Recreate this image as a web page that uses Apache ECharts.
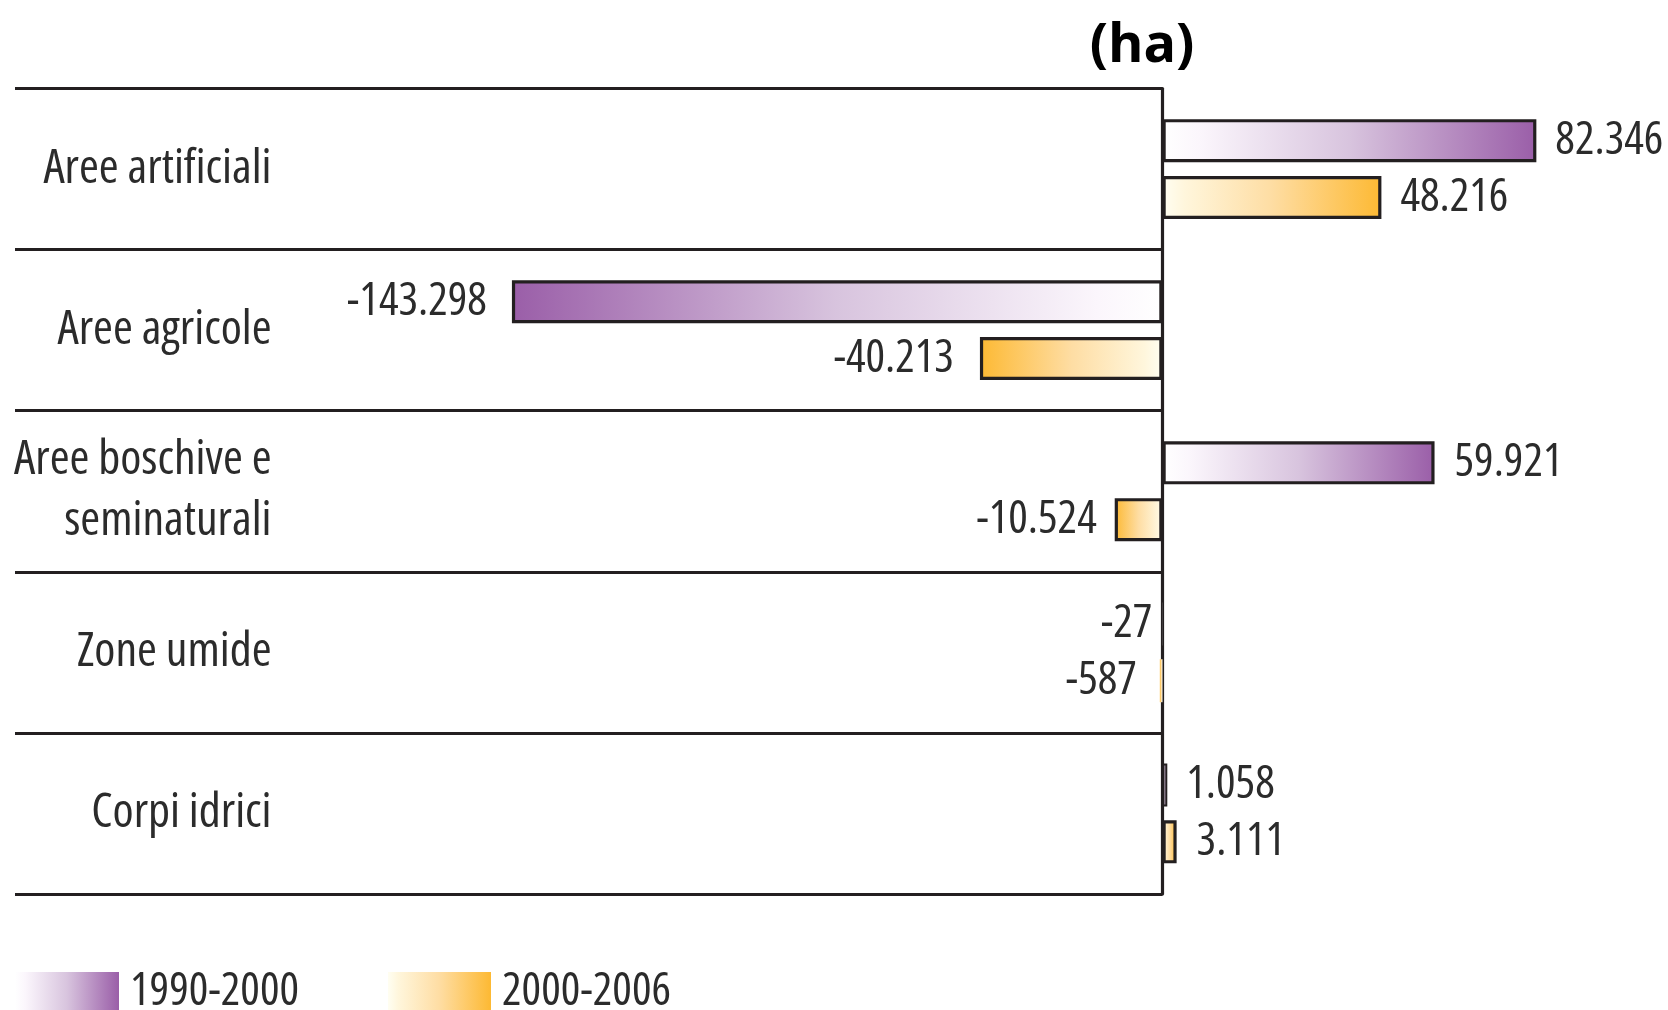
<!DOCTYPE html>
<html>
<head>
<meta charset="utf-8">
<script src="https://cdn.jsdelivr.net/npm/echarts@6/dist/echarts.min.js"></script>
<style>
html,body{margin:0;padding:0;background:#fff;}
#chart{width:1668px;height:1010px;}
</style>
</head>
<body>
<div id="chart"></div>
<script>
// ---- data ----
var categories = ['Aree artificiali', 'Aree agricole', 'Aree boschive e\nseminaturali', 'Zone umide', 'Corpi idrici'];
var seriesNames = ['1990-2000', '2000-2006'];
var values1990 = [82346, -143298, 59921, -27, 1058];
var values2000 = [48216, -40213, -10524, -587, 3111];
var unitTitle = '(ha)';

// ---- styling ----
var labelGap1990 = [19, 25, 20, 10, 19];
var labelGap2000 = [19, 26, 18, 23, 20];
var LINE = '#231f20';
var TXT = '#2b2b2b';
var purpleStops = ['#ffffff', '#fbf6fc', '#d8c4de', '#9a5ea8'];
var orangeStops = ['#fffef2', '#fff6dc', '#fedda3', '#fdb933'];

// pick the narrowest available condensed face
var mctx = document.createElement('canvas').getContext('2d');
function measure(style, family) {
  mctx.font = (style ? style + ' ' : '') + '46px ' + family;
  return mctx.measureText('Aree artificiali').width;
}
var candidates = [
  { style: 'condensed', family: '"Noto Sans"' },
  { style: 'condensed', family: '"Open Sans"' },
  { style: '', family: '"Liberation Sans Narrow"' },
  { style: 'condensed', family: '"DejaVu Sans"' },
  { style: '', family: '"Roboto"' }
];
var best = candidates[candidates.length - 1], bestW = Infinity;
candidates.forEach(function (c) {
  var wv = measure(c.style, c.family);
  if (wv < bestW - 0.5) { bestW = wv; best = c; }
});
var FONT = best.family + ', sans-serif';
var FSTYLE = best.style || 'normal';
var catSize = Math.min(48, Math.round(46 * 228 / bestW));
var numSize = Math.round(catSize * 0.96);
var legSize = Math.round(catSize * 0.95);

function grad(stops, reversed) {
  var pos = [0, 0.1, 0.5, 1];
  var cs = stops.map(function (c, i) {
    return { offset: reversed ? 1 - pos[i] : pos[i], color: c };
  });
  if (reversed) cs.reverse();
  return new echarts.graphic.LinearGradient(0, 0, 1, 0, cs);
}
function fmt(v) {
  var s = Math.abs(v).toString().replace(/\B(?=(\d{3})+(?!\d))/g, '.');
  return (v < 0 ? '-' : '') + s;
}
function buildData(vals, stops, gaps) {
  return vals.map(function (v, i) {
    var tiny = Math.abs(v) < 1000;
    var small = Math.abs(v) < 2000;
    return {
      value: v,
      itemStyle: { color: grad(stops, v < 0), borderWidth: (tiny && v < 0) ? 0 : (small ? 2 : 3.2) },
      label: { position: v < 0 ? 'left' : 'right', distance: gaps[i] }
    };
  });
}

var chart = echarts.init(document.getElementById('chart'), null, { renderer: 'canvas' });
var barLabel = {
  show: true,
  fontFamily: FONT,
  fontStyle: FSTYLE,
  fontSize: numSize,
  color: TXT,
  formatter: function (p) { return fmt(p.value); }
};
var legendText = { fontFamily: FONT, fontStyle: FSTYLE, fontSize: legSize, color: TXT, padding: [0, 0, 0, 6] };
var option = {
  animation: false,
  backgroundColor: '#ffffff',
  title: {
    text: unitTitle,
    left: 1137,
    top: 10,
    textAlign: 'center',
    textStyle: { fontFamily: '"Open Sans", sans-serif', fontWeight: 'bold', fontSize: 54, lineHeight: 64, color: '#000' }
  },
  legend: [
    {
      data: [seriesNames[0]], left: 15, top: 969, padding: 0, icon: 'rect', itemWidth: 104, itemHeight: 40,
      itemStyle: { borderWidth: 0 }, textStyle: legendText
    },
    {
      data: [seriesNames[1]], left: 388, top: 969, padding: 0, icon: 'rect', itemWidth: 103, itemHeight: 40,
      itemStyle: { borderWidth: 0 }, textStyle: legendText
    }
  ],
  grid: { left: 15, right: 505.5, top: 88.5, bottom: 116, containLabel: false, outerBoundsMode: 'none' },
  xAxis: { type: 'value', min: -252750, max: 0, show: false },
  yAxis: {
    type: 'category',
    data: categories,
    inverse: true,
    position: 'right',
    axisLine: { show: true, onZero: false, lineStyle: { color: LINE, width: 3.2 } },
    axisTick: { show: false },
    splitLine: { show: true, lineStyle: { color: LINE, width: 3.2 } },
    axisLabel: {
      inside: true, margin: 891, align: 'right',
      fontFamily: FONT, fontStyle: FSTYLE, fontSize: catSize, lineHeight: 61, color: TXT
    }
  },
  series: [
    {
      name: seriesNames[0], type: 'bar', clip: false,
      barWidth: 43, barGap: '32%',
      itemStyle: { color: grad(purpleStops, false), borderColor: LINE, borderWidth: 3.2 },
      label: barLabel,
      data: buildData(values1990, purpleStops, labelGap1990)
    },
    {
      name: seriesNames[1], type: 'bar', clip: false,
      barWidth: 43, barGap: '32%',
      itemStyle: { color: grad(orangeStops, false), borderColor: LINE, borderWidth: 3.2 },
      label: barLabel,
      data: buildData(values2000, orangeStops, labelGap2000)
    }
  ]
};
chart.setOption(option);
</script>
</body>
</html>
